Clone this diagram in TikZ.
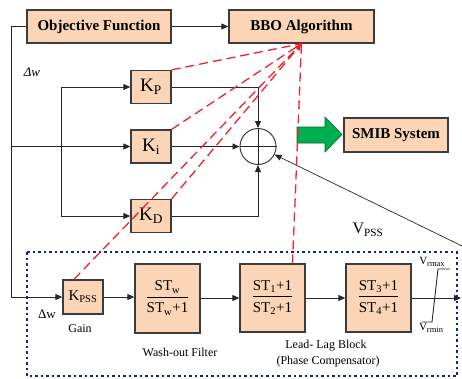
\documentclass[tikz,border=0pt]{standalone}
\usepackage{fontspec}
\setmainfont{Liberation Serif}
\usetikzlibrary{arrows.meta}
\definecolor{peach}{RGB}{251,213,181}
\definecolor{bordc}{RGB}{60,60,60}
\definecolor{redd}{RGB}{235,35,45}
\definecolor{greenarr}{RGB}{0,176,80}
\definecolor{navyd}{RGB}{20,30,150}
\newcommand{\fracbox}[2]{{\setlength{\arrayrulewidth}{1pt}\begin{tabular}{@{}c@{}}#1\\[1pt]\hline\rule{0pt}{15pt}#2\end{tabular}}}
\newcommand{\lowsub}[1]{\raisebox{-1.5pt}{\fontsize{8.5}{9}\selectfont #1}}
\begin{document}
\begin{tikzpicture}[x=1pt,y=-1pt,
 blk/.style={draw=bordc, fill=peach, line width=1.3pt, inner sep=0pt},
 bigbold/.style={font=\fontsize{15}{18}\selectfont\bfseries},
 conn/.style={draw=black!85, line width=0.9pt},
 arr/.style={conn, -{Triangle[length=7pt,width=6pt]}},
 dsh/.style={draw=redd, line width=1.3pt, dash pattern=on 9pt off 5pt},
 lbl/.style={font=\fontsize{12}{14}\selectfont, inner sep=0pt}
]
\useasboundingbox (0,0) rectangle (462,378);

% dotted frame
\draw[navyd, line width=2.2pt, dash pattern=on 2.5pt off 3pt] (27,252) rectangle (457,376);

% blocks
\node[blk, bigbold, minimum width=144pt, minimum height=33pt] (obj) at (99,26.5) {Objective Function};
\node[blk, bigbold, minimum width=145pt, minimum height=33pt] (bbo) at (301.5,26.5) {BBO Algorithm};
\node[blk, minimum width=40pt, minimum height=33pt, font=\fontsize{19}{20}\selectfont] (kp) at (151,87) {K\textsubscript{P}};
\node[blk, minimum width=40pt, minimum height=33pt, font=\fontsize{19}{20}\selectfont] (ki) at (151,146.5) {K\textsubscript{i}};
\node[blk, minimum width=40pt, minimum height=33pt, font=\fontsize{19}{20}\selectfont] (kd) at (151,216) {K\textsubscript{D}};
\node[draw=bordc, line width=1pt, circle, minimum size=36pt, inner sep=0pt] (sum) at (258,146.5) {};
\node[blk, bigbold, minimum width=104pt, minimum height=34pt] (smib) at (396,135) {SMIB System};

\node[blk, minimum width=40pt, minimum height=34pt, font=\fontsize{15}{16}\selectfont] (kpss) at (83,297) {K\textsubscript{PSS}};
\node[blk, minimum width=65pt, minimum height=69pt, font=\fontsize{15}{17}\selectfont] (wash) at (167.5,298.5) {\fracbox{ST\textsubscript{w}}{ST\textsubscript{w}+1}};
\node[blk, minimum width=65pt, minimum height=68pt, font=\fontsize{15}{17}\selectfont] (ll1) at (272.5,298) {\fracbox{ST\textsubscript{1}+1}{ST\textsubscript{2}+1}};
\node[blk, minimum width=65pt, minimum height=68pt, font=\fontsize{15}{17}\selectfont] (ll2) at (378.5,298) {\fracbox{ST\textsubscript{3}+1}{ST\textsubscript{4}+1}};

% green block arrow
\draw[fill=greenarr, draw=greenarr!60!black, line width=0.6pt] (297,127) -- (325,127) -- (325,117) -- (342,134.5) -- (325,152) -- (325,143) -- (297,143) -- cycle;

% labels
\node[lbl] (gain) at (80,329) {Gain};
\node[lbl] (wl) at (180,352) {Wash-out Filter};
\node[lbl] (lll) at (326,346) {Lead- Lag Block};
\node[lbl] (pc) at (328,362) {(Phase Compensator)};
\node[font=\fontsize{16}{18}\selectfont, inner sep=0pt] (vpss) at (368,230) {V\textsubscript{PSS}};
\node[font=\fontsize{13}{14}\selectfont\itshape, inner sep=0pt] (dw1) at (32,72) {Δw};
\node[font=\fontsize{13}{14}\selectfont, inner sep=0pt] (dw2) at (47,314) {Δw};
\node[font=\fontsize{11}{12}\selectfont, inner sep=0pt] (vmax) at (432,262) {V\lowsub{rmax}};
\node[font=\fontsize{11}{12}\selectfont, inner sep=0pt] (vmin) at (431,328) {V\lowsub{rmin}};

% connectors
\coordinate (c1) at (11,26.5);
\coordinate (c2) at (11,297);
\draw[arr] (obj.west) -- (c1) -- (c2) -- (kpss.west);
\draw[arr] (obj) -- (bbo);
\coordinate (c3) at (11,146.5);
\draw[arr] (c3) -- (ki.west);
\coordinate (c4) at (61,87);
\coordinate (c5) at (61,216);
\draw[conn] (c4) -- (c5);
\draw[arr] (c4) -- (kp.west);
\draw[arr] (c5) -- (kd.west);
\draw[arr] (kp.east) -| (sum.north);
\draw[arr] (ki.east) -- (sum.west);
\draw[arr] (kd.east) -| (sum.south);
\draw[conn] (sum.north) -- (sum.south);
\draw[conn] (sum.west) -- (sum.east);
\coordinate (c6) at (462,246);
\draw[draw=black!85, line width=0.7pt, -{Triangle[length=7pt,width=6pt]}] (c6) -- (sum);
\draw[arr] (kpss.east) -- (kpss.east -| wash.west);
\draw[arr] (ll1.west -| wash.east) -- (ll1.west);
\draw[arr] (ll1) -- (ll2);
\coordinate (c7) at (461,298);
\draw[arr] (ll2.east) -- (c7);

% limiter
\draw[conn] (422,322) -- (432,322) -- (438,269) -- (450,269);

% dashed optimisation links
\draw[dsh] (kp.north east) -- (bbo.south);
\draw[dsh] (ki.north east) -- (bbo.south);
\draw[dsh, -{Triangle[length=7pt,width=6pt]}] (kd.north east) -- (bbo.south);
\draw[dsh] ([xshift=-9pt]kpss.north) -- (bbo.south);
\draw[dsh] ([xshift=20pt]ll1.north) -- (bbo.south);
\end{tikzpicture}
\end{document}
